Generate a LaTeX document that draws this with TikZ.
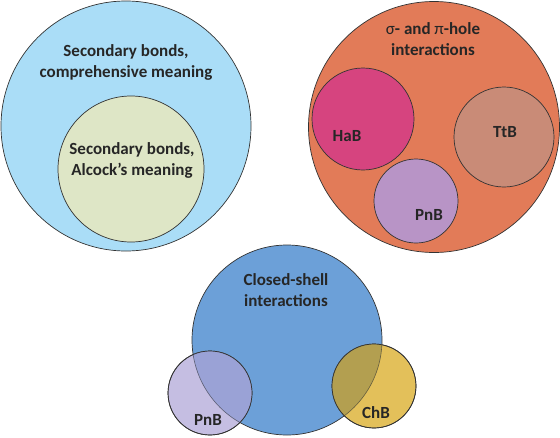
\documentclass[tikz,border=0pt]{standalone}
\usepackage{fontspec}
\setmainfont{Carlito}
\definecolor{ltblue}{HTML}{AADDF7}
\definecolor{ltgreen}{HTML}{DEE6C6}
\definecolor{orng}{HTML}{E27B58}
\definecolor{hab}{HTML}{D6447F}
\definecolor{ttb}{HTML}{C98B77}
\definecolor{pnb}{HTML}{B894C6}
\definecolor{cblue}{HTML}{6CA0D8}
\definecolor{lav}{HTML}{C5BEE2}
\definecolor{lavov}{HTML}{9AA2D6}
\definecolor{chb}{HTML}{E3C05A}
\definecolor{chbov}{HTML}{B39F50}
\definecolor{txt}{HTML}{262626}
\definecolor{edge}{HTML}{333333}
\begin{document}
\begin{tikzpicture}[x=1pt,y=-1pt,
  set/.style={circle,draw=edge,line width=0.7pt,inner sep=0pt,minimum size=#1},
  lbl/.style={font=\fontsize{17}{21}\selectfont\bfseries,text=txt,align=center,inner sep=0pt}]
\useasboundingbox (0,0) rectangle (560,437);
% top-left
\node[set=250pt,fill=ltblue] (sbc) at (126,126) {};
\node[set=146pt,fill=ltgreen] (sba) at (131,169) {};
\node[lbl] (tsbc) at (126,62) {Secondary bonds,\\comprehensive meaning};
\node[lbl] (tsba) at (132,160) {Secondary bonds,\\Alcock’s meaning};
% top-right
\node[set=251pt,fill=orng] (sig) at (434,127) {};
\node[set=102pt,fill=hab] (hab) at (363,119) {};
\node[set=100pt,fill=ttb] (ttb) at (504,137) {};
\node[set=84pt,fill=pnb] (pnb1) at (416,201) {};
\node[lbl] (tsig) at (433,39) {{\mdseries σ}- and {\mdseries π}-hole\\interactions};
\node[lbl] (thab) at (347,136) {HaB};
\node[lbl] (tttb) at (505,132) {TtB};
\node[lbl] (tpnb1) at (429,215) {PnB};
% bottom
\node[set=190pt,fill=cblue] (cs) at (287,340) {};
\node[set=84pt,fill=lav] (pnb2) at (210,393) {};
\node[set=84pt,fill=chb] (chb) at (374,386) {};
\begin{scope}
  \clip (pnb2.center) circle (42);
  \fill[lavov] (cs.center) circle (95);
  \draw[edge!60!lavov,line width=0.6pt] (cs.center) circle (95);
\end{scope}
\begin{scope}
  \clip (chb.center) circle (42);
  \fill[chbov] (cs.center) circle (95);
  \draw[edge!60!chbov,line width=0.6pt] (cs.center) circle (95);
\end{scope}
\draw[edge,line width=0.7pt] (pnb2.center) circle (42);
\draw[edge,line width=0.7pt] (chb.center) circle (42);
\node[lbl] (tcs) at (286,290) {Closed-shell\\interactions};
\node[lbl] (tpnb2) at (208,420) {PnB};
\node[lbl] (tchb) at (376,413) {ChB};
\end{tikzpicture}
\end{document}
